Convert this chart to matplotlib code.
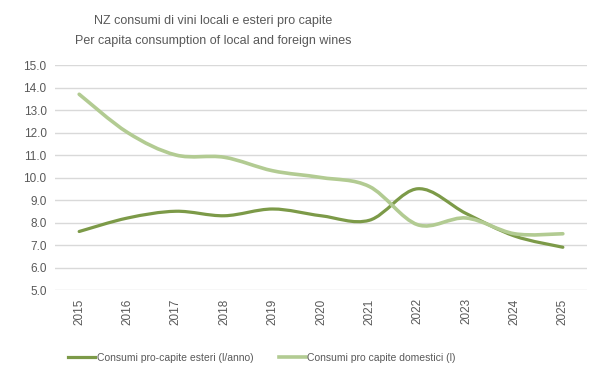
import matplotlib.pyplot as plt
from matplotlib.path import Path
from matplotlib.patches import PathPatch
from matplotlib.lines import Line2D
import numpy as np

years = ['2015', '2016', '2017', '2018', '2019', '2020', '2021', '2022', '2023', '2024', '2025']
esteri = [7.6, 8.2, 8.5, 8.3, 8.6, 8.3, 8.1, 9.5, 8.4, 7.4, 6.9]
domestici = [13.7, 12.0, 11.0, 10.9, 10.3, 10.0, 9.6, 7.9, 8.2, 7.5, 7.5]
labels = ['Consumi pro-capite esteri (l/anno)', 'Consumi pro capite domestici (l)']

dark = '#7C9A48'
light = '#B2CB92'
grey = '#595959'


def smooth_path(x, y):
    # Excel-like smoothed line: Catmull-Rom turned into cubic Bezier segments
    pts = np.column_stack([x, y]).astype(float)
    verts = [pts[0]]
    codes = [Path.MOVETO]
    n = len(pts)
    for i in range(n - 1):
        p0 = pts[max(i - 1, 0)]
        p1 = pts[i]
        p2 = pts[i + 1]
        p3 = pts[min(i + 2, n - 1)]
        c1 = p1 + (p2 - p0) / 6.0
        c2 = p2 - (p3 - p1) / 6.0
        verts += [c1, c2, p2]
        codes += [Path.CURVE4] * 3
    return Path(verts, codes)


fig = plt.figure(figsize=(6.07, 3.78), dpi=100)
ax = fig.add_axes([0.0906, 0.2328, 0.8765, 0.5952])

x = np.arange(len(years))
ax.add_patch(PathPatch(smooth_path(x, esteri), fill=False, edgecolor=dark, lw=2.3, capstyle='round'))
ax.add_patch(PathPatch(smooth_path(x, domestici), fill=False, edgecolor=light, lw=2.6, capstyle='round'))

ax.set_xlim(-0.5, len(years) - 0.5)
ax.set_ylim(5, 15)
ax.set_yticks(np.arange(5, 15.1, 1))
ax.set_yticklabels(['%.1f' % v for v in np.arange(5, 15.1, 1)])
ax.set_xticks(x)
ax.set_xticklabels(years, rotation=90)
ax.tick_params(length=0, labelsize=8.5, labelcolor=grey, pad=6, labelfontfamily='Liberation Sans')
ax.grid(axis='y', color='#D9D9D9', lw=1)
ax.set_axisbelow(True)
for s in ax.spines.values():
    s.set_visible(False)

fig.text(213 / 607, 1 - 21 / 378, 'NZ consumi di vini locali e esteri pro capite',
         ha='center', va='center', fontsize=9.0, color=grey, family='Liberation Sans')
fig.text(213 / 607, 1 - 41 / 378, 'Per capita consumption of local and foreign wines',
         ha='center', va='center', fontsize=9.0, color=grey, family='Liberation Sans')

handles = [Line2D([], [], color=dark, lw=2.3), Line2D([], [], color=light, lw=2.6)]
fig.legend(handles, labels, loc='center', bbox_to_anchor=(262 / 607, 1 - 358 / 378), ncol=2,
           frameon=False, handlelength=2.6, handletextpad=0.15, columnspacing=2.4,
           prop={'family': 'Liberation Sans', 'size': 7.5}, labelcolor=grey)

fig.savefig('out.png', dpi=100)
